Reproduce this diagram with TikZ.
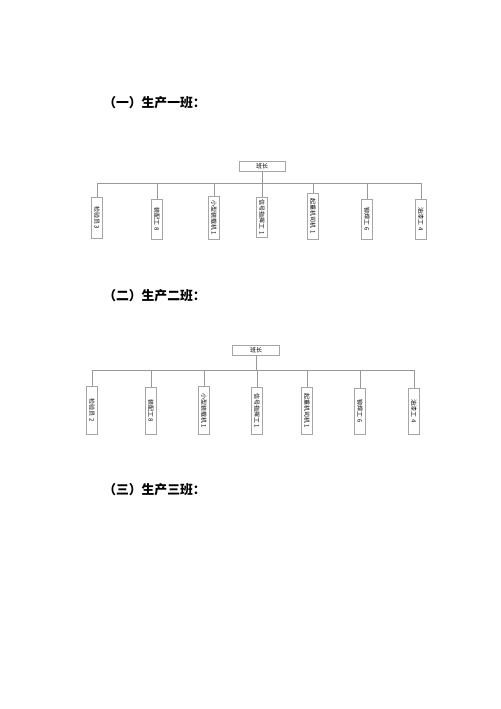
\documentclass[tikz,border=0pt]{standalone}
\usepackage{fontspec}
\newfontfamily\cjk{Noto Sans CJK SC}
\usetikzlibrary{positioning,calc}

\begin{document}
\begin{tikzpicture}[x=0.75pt,y=-0.75pt,
    heading/.style={anchor=west,inner sep=0pt,font=\cjk\bfseries\fontsize{9.6}{10}\selectfont},
    boss/.style={draw=gray!70,line width=0.5pt,inner sep=0pt,minimum height=7.5pt,font=\cjk\fontsize{4.5}{5}\selectfont},
    role/.style={draw=gray!70,line width=0.5pt,inner sep=0pt,minimum height=8.5pt,rotate=-90,anchor=west,font=\cjk\fontsize{4.5}{5}\selectfont},
    link/.style={gray!80,line width=0.5pt}]
\useasboundingbox (0,0) rectangle (500,709);

% Headings
\node[heading] (h1) at (103,103) {（一）生产一班：};
\node[heading] (h2) at (103,296) {（二）生产二班：};
\node[heading] (h3) at (103,490) {（三）生产三班：};

% Team one
\node[boss,minimum width=34.5pt] (boss1) at (262,166) {班长};
\coordinate (bus1) at (262,183);
\foreach \i/\x/\y/\len/\txt in {1/97/197/30.75/检验员 3, 2/157/199/30/装配工 8,
    3/214/196/32.25/小型装载机 1, 4/262/197/30/信号指挥工 1, 5/313/193/34.5/起重机司机 1,
    6/367/199/30/铆焊工 6, 7/421/199/30/油漆工 4} {
    \node[role,minimum width=\len pt] (a\i) at (\x,\y) {\txt};
    \draw[link] (a\i.west) -- (a\i.west |- bus1);
}
\draw[link] (boss1.south) -- (bus1);
\draw[link] (a1.west |- bus1) -- (a7.west |- bus1);

% Team two
\node[boss,minimum width=35pt] (boss2) at (256,350) {班长};
\coordinate (bus2) at (256,370);
\foreach \i/\x/\y/\len/\txt in {1/92/386/36/检验员 2, 2/151/387/35.25/装配工 8,
    3/204/386/36/小型装载机 1, 4/257/387/35.25/信号指挥工 1, 5/307/387/35.25/起重机司机 1,
    6/360/388/34.5/铆焊工 6, 7/414/388/34.5/油漆工 4} {
    \node[role,minimum width=\len pt] (b\i) at (\x,\y) {\txt};
    \draw[link] (b\i.west) -- (b\i.west |- bus2);
}
\draw[link] (boss2.south) -- (bus2);
\draw[link] (b1.west |- bus2) -- (b7.west |- bus2);

\end{tikzpicture}
\end{document}
